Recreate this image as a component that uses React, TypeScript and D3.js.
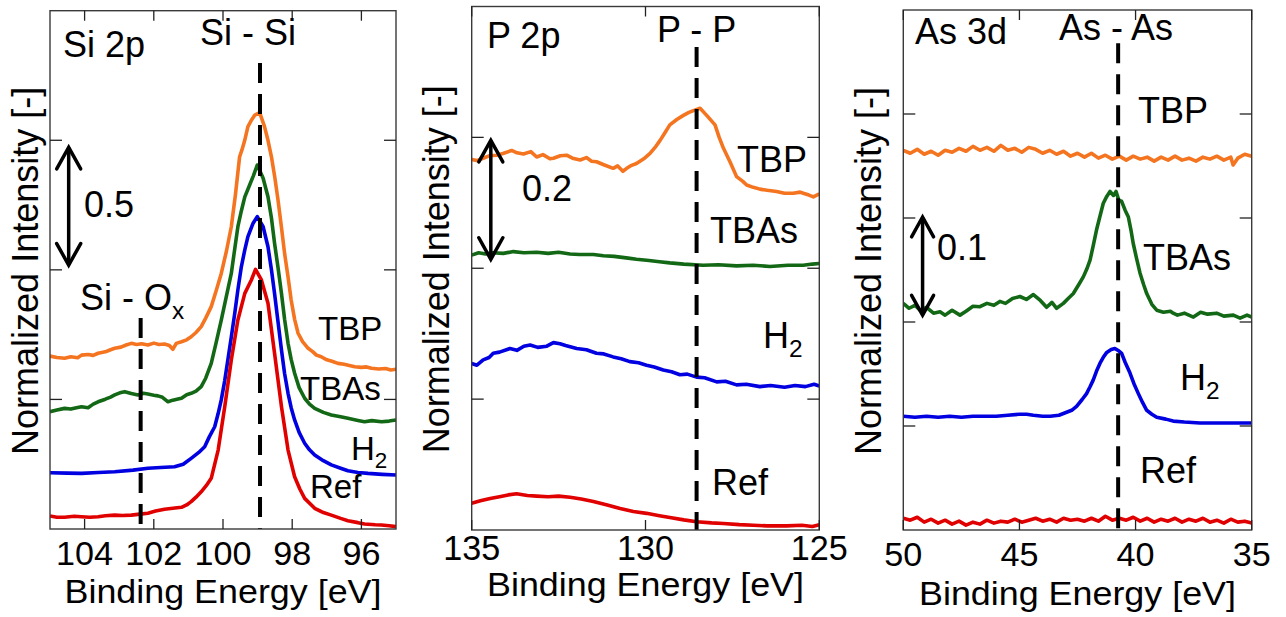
import React from "react";
import * as d3 from "d3";

type Pt = [number, number];

// ---- Si 2p spectra (binding energy eV, normalized intensity, offset) ----
const siTBP: Pt[] = [[105.0,0.734],[104.8,0.728],[104.58,0.725],[104.4,0.731],[104.2,0.727],[104.09,0.738],[103.9,0.741],[103.75,0.737],[103.61,0.746],[103.4,0.752],[103.25,0.761],[103.13,0.767],[102.95,0.772],[102.8,0.781],[102.65,0.788],[102.5,0.783],[102.35,0.786],[102.17,0.781],[102.0,0.789],[101.85,0.783],[101.69,0.785],[101.55,0.779],[101.45,0.763],[101.35,0.788],[101.2,0.795],[101.05,0.803],[100.92,0.816],[100.78,0.834],[100.63,0.859],[100.5,0.895],[100.34,0.944],[100.2,1.01],[100.05,1.085],[99.9,1.18],[99.76,1.283],[99.64,1.42],[99.52,1.58],[99.45,1.61],[99.37,1.651],[99.28,1.708],[99.18,1.735],[99.08,1.757],[98.94,1.767],[98.8,1.708],[98.7,1.65],[98.6,1.58],[98.5,1.49],[98.41,1.396],[98.31,1.28],[98.22,1.17],[98.12,1.07],[98.03,0.972],[97.93,0.89],[97.83,0.831],[97.7,0.795],[97.54,0.767],[97.4,0.752],[97.3,0.738],[97.16,0.731],[97.0,0.718],[96.85,0.712],[96.68,0.703],[96.5,0.699],[96.35,0.694],[96.19,0.689],[96.0,0.686],[95.85,0.688],[95.71,0.682],[95.5,0.679],[95.3,0.681],[95.15,0.675],[95.0,0.678]];
const siTBAs: Pt[] = [[105.0,0.498],[104.8,0.505],[104.58,0.512],[104.4,0.509],[104.2,0.516],[104.09,0.519],[103.9,0.515],[103.75,0.53],[103.61,0.54],[103.4,0.551],[103.25,0.56],[103.13,0.569],[102.98,0.578],[102.84,0.583],[102.65,0.575],[102.46,0.569],[102.3,0.576],[102.17,0.573],[102.0,0.568],[101.88,0.565],[101.75,0.559],[101.59,0.54],[101.45,0.547],[101.3,0.552],[101.2,0.555],[101.05,0.57],[100.92,0.576],[100.78,0.585],[100.63,0.604],[100.5,0.64],[100.34,0.703],[100.2,0.79],[100.05,0.887],[99.9,0.99],[99.76,1.085],[99.66,1.19],[99.57,1.283],[99.47,1.35],[99.37,1.41],[99.23,1.46],[99.12,1.5],[99.01,1.545],[98.84,1.489],[98.7,1.41],[98.6,1.32],[98.51,1.213],[98.41,1.11],[98.31,1.0],[98.22,0.89],[98.12,0.788],[98.03,0.72],[97.93,0.661],[97.8,0.6],[97.64,0.555],[97.5,0.53],[97.35,0.512],[97.1,0.495],[96.87,0.484],[96.6,0.476],[96.39,0.47],[96.1,0.461],[95.91,0.455],[95.7,0.46],[95.42,0.455],[95.2,0.458],[95.0,0.463]];
const siH2: Pt[] = [[105.0,0.239],[104.5,0.237],[104.09,0.236],[103.6,0.24],[103.13,0.243],[102.6,0.25],[102.17,0.258],[101.8,0.261],[101.4,0.264],[101.15,0.275],[100.92,0.3],[100.7,0.325],[100.53,0.349],[100.4,0.39],[100.24,0.434],[100.14,0.49],[100.05,0.548],[99.95,0.63],[99.86,0.717],[99.76,0.815],[99.66,0.916],[99.57,1.015],[99.47,1.113],[99.37,1.185],[99.28,1.241],[99.13,1.298],[99.01,1.326],[98.84,1.283],[98.7,1.198],[98.6,1.1],[98.51,1.0],[98.41,0.88],[98.31,0.76],[98.22,0.66],[98.12,0.576],[98.03,0.515],[97.93,0.463],[97.8,0.41],[97.64,0.364],[97.5,0.336],[97.35,0.314],[97.1,0.29],[96.87,0.272],[96.6,0.258],[96.39,0.247],[96.1,0.24],[95.81,0.236],[95.4,0.232],[95.0,0.229]];
const siRef: Pt[] = [[105.0,0.055],[104.8,0.05],[104.58,0.05],[104.3,0.054],[104.09,0.052],[103.85,0.05],[103.61,0.052],[103.4,0.056],[103.13,0.059],[102.9,0.057],[102.65,0.059],[102.4,0.063],[102.17,0.067],[101.95,0.076],[101.69,0.084],[101.45,0.088],[101.2,0.092],[101.05,0.102],[100.92,0.116],[100.78,0.135],[100.63,0.158],[100.48,0.185],[100.34,0.215],[100.14,0.335],[99.95,0.519],[99.76,0.717],[99.57,0.887],[99.37,1.0],[99.18,1.057],[99.06,1.102],[98.89,1.057],[98.7,0.958],[98.51,0.746],[98.31,0.519],[98.12,0.335],[97.93,0.222],[97.78,0.17],[97.64,0.13],[97.35,0.088],[97.1,0.07],[96.87,0.059],[96.6,0.045],[96.39,0.035],[96.1,0.027],[95.91,0.021],[95.6,0.018],[95.42,0.017],[95.2,0.014],[95.0,0.01]];

// ---- P 2p spectra ----
const pTBP: Pt[] = [[135.0,0.623],[134.85,0.621],[134.67,0.625],[134.5,0.629],[134.28,0.63],[134.1,0.633],[133.85,0.638],[133.7,0.634],[133.51,0.632],[133.3,0.636],[133.13,0.627],[132.95,0.631],[132.75,0.624],[132.65,0.625],[132.45,0.629],[132.27,0.63],[132.1,0.625],[131.88,0.622],[131.7,0.626],[131.55,0.62],[131.41,0.619],[131.2,0.614],[130.93,0.608],[130.8,0.612],[130.65,0.603],[130.54,0.608],[130.4,0.613],[130.26,0.616],[130.05,0.624],[129.87,0.633],[129.7,0.645],[129.58,0.655],[129.45,0.667],[129.3,0.681],[129.1,0.69],[128.91,0.697],[128.75,0.702],[128.62,0.705],[128.43,0.709],[128.24,0.697],[128.0,0.681],[127.88,0.66],[127.76,0.642],[127.57,0.619],[127.38,0.594],[127.2,0.586],[127.09,0.58],[126.9,0.576],[126.71,0.573],[126.5,0.571],[126.23,0.569],[126.0,0.566],[125.75,0.566],[125.55,0.568],[125.46,0.566],[125.3,0.563],[125.17,0.56],[125.0,0.565]];
const pTBAs: Pt[] = [[135.0,0.462],[134.8,0.466],[134.6,0.464],[134.4,0.466],[134.09,0.465],[133.8,0.468],[133.5,0.466],[133.13,0.467],[132.8,0.465],[132.5,0.467],[132.17,0.464],[131.9,0.463],[131.5,0.463],[131.21,0.461],[130.9,0.46],[130.5,0.457],[130.26,0.455],[129.9,0.453],[129.6,0.451],[129.3,0.449],[128.9,0.447],[128.34,0.445],[127.9,0.446],[127.38,0.444],[126.9,0.445],[126.42,0.443],[125.9,0.445],[125.46,0.445],[125.2,0.447],[125.0,0.448]];
const pH2: Pt[] = [[135.0,0.28],[134.85,0.277],[134.67,0.286],[134.5,0.29],[134.38,0.297],[134.2,0.299],[133.9,0.305],[133.7,0.302],[133.5,0.309],[133.32,0.311],[133.1,0.307],[132.84,0.309],[132.65,0.315],[132.46,0.313],[132.3,0.31],[131.98,0.305],[131.7,0.303],[131.41,0.297],[131.2,0.296],[130.93,0.291],[130.7,0.288],[130.45,0.283],[130.2,0.281],[129.97,0.277],[129.75,0.274],[129.49,0.269],[129.25,0.266],[129.01,0.261],[128.8,0.262],[128.53,0.257],[128.3,0.256],[127.95,0.249],[127.7,0.25],[127.38,0.244],[127.1,0.245],[126.71,0.241],[126.4,0.243],[126.0,0.24],[125.7,0.243],[125.4,0.241],[125.15,0.245],[125.0,0.242]];
const pRef: Pt[] = [[135.0,0.045],[134.75,0.049],[134.47,0.053],[134.2,0.056],[133.95,0.059],[133.71,0.061],[133.4,0.058],[133.13,0.057],[132.8,0.056],[132.5,0.057],[132.17,0.055],[131.85,0.052],[131.5,0.048],[131.1,0.042],[130.73,0.036],[130.35,0.031],[129.97,0.028],[129.6,0.024],[129.3,0.021],[128.9,0.017],[128.53,0.014],[128.1,0.012],[127.76,0.011],[127.3,0.009],[126.9,0.008],[126.5,0.007],[125.94,0.007],[125.5,0.008],[125.2,0.006],[125.0,0.009]];

// ---- As 3d spectra ----
const asTBP: Pt[] = [[50,0.387],[49.7,0.384],[49.4,0.388],[49.1,0.383],[48.8,0.386],[48.5,0.382],[48.2,0.387],[47.9,0.385],[47.6,0.389],[47.3,0.386],[47.0,0.391],[46.7,0.387],[46.4,0.39],[46.1,0.386],[45.8,0.392],[45.5,0.387],[45.2,0.389],[44.9,0.385],[44.6,0.39],[44.3,0.388],[44.0,0.384],[43.7,0.387],[43.4,0.383],[43.1,0.386],[42.8,0.381],[42.5,0.384],[42.2,0.38],[41.9,0.384],[41.6,0.379],[41.3,0.382],[41.0,0.378],[40.7,0.381],[40.4,0.377],[40.1,0.381],[39.8,0.378],[39.5,0.38],[39.2,0.376],[38.9,0.38],[38.6,0.377],[38.3,0.381],[38.0,0.377],[37.7,0.379],[37.4,0.376],[37.1,0.38],[36.8,0.378],[36.5,0.381],[36.2,0.377],[35.9,0.38],[35.8,0.372],[35.6,0.379],[35.3,0.383],[35.0,0.381]];
const asTBAs: Pt[] = [[50,0.231],[49.75,0.226],[49.5,0.229],[49.28,0.224],[49.0,0.227],[48.7,0.221],[48.42,0.2225],[48.2,0.219],[47.9,0.224],[47.56,0.219],[47.3,0.223],[47.0,0.228],[46.7,0.2276],[46.4,0.231],[46.1,0.229],[45.84,0.233],[45.6,0.231],[45.3,0.236],[44.98,0.238],[44.7,0.235],[44.4,0.24],[44.1,0.234],[43.83,0.227],[43.6,0.232],[43.4,0.226],[43.11,0.231],[42.9,0.236],[42.68,0.241],[42.45,0.25],[42.25,0.258],[42.1,0.266],[41.96,0.275],[41.82,0.29],[41.68,0.306],[41.53,0.32],[41.39,0.333],[41.24,0.34],[41.1,0.345],[40.95,0.341],[40.84,0.345],[40.72,0.336],[40.6,0.335],[40.45,0.326],[40.31,0.319],[40.2,0.306],[40.1,0.292],[39.95,0.276],[39.81,0.262],[39.65,0.25],[39.52,0.241],[39.3,0.23],[39.09,0.224],[38.8,0.222],[38.5,0.223],[38.38,0.221],[38.2,0.219],[37.9,0.221],[37.51,0.217],[37.2,0.222],[36.9,0.22],[36.51,0.221],[36.2,0.218],[35.79,0.219],[35.5,0.216],[35.2,0.219],[35.0,0.217]];
const asH2: Pt[] = [[50,0.116],[49.5,0.115],[49.0,0.116],[48.5,0.115],[48.0,0.116],[47.5,0.115],[47.0,0.116],[46.5,0.116],[46.0,0.116],[45.5,0.117],[45.0,0.118],[44.69,0.118],[44.4,0.117],[44.0,0.116],[43.68,0.116],[43.3,0.117],[42.97,0.12],[42.75,0.122],[42.54,0.126],[42.3,0.133],[42.11,0.139],[41.96,0.146],[41.82,0.153],[41.68,0.162],[41.53,0.17],[41.39,0.176],[41.24,0.181],[41.05,0.184],[40.89,0.185],[40.75,0.183],[40.6,0.18],[40.45,0.171],[40.24,0.16],[40.05,0.148],[39.88,0.139],[39.7,0.13],[39.52,0.122],[39.3,0.118],[39.09,0.115],[38.7,0.113],[38.38,0.111],[37.9,0.11],[37.23,0.109],[36.5,0.109],[35.79,0.109],[35.0,0.109]];
const asRef: Pt[] = [[50,0.012],[49.7,0.01],[49.4,0.013],[49.1,0.008],[48.8,0.011],[48.5,0.007],[48.2,0.01],[47.9,0.006],[47.6,0.009],[47.3,0.005],[47.0,0.008],[46.7,0.006],[46.4,0.01],[46.1,0.007],[45.8,0.009],[45.5,0.008],[45.2,0.011],[44.9,0.008],[44.6,0.01],[44.3,0.012],[44.0,0.009],[43.7,0.011],[43.4,0.008],[43.1,0.012],[42.8,0.01],[42.5,0.011],[42.2,0.009],[41.9,0.012],[41.6,0.009],[41.3,0.014],[41.0,0.01],[40.7,0.012],[40.4,0.01],[40.1,0.013],[39.8,0.009],[39.5,0.012],[39.2,0.008],[38.9,0.011],[38.6,0.009],[38.3,0.012],[38.0,0.008],[37.7,0.011],[37.4,0.009],[37.1,0.012],[36.8,0.008],[36.5,0.01],[36.2,0.007],[35.9,0.011],[35.6,0.008],[35.3,0.009],[35.0,0.007]];

// tick values
const siTicks = [104, 102, 100, 98, 96];
const pTicks = [135, 130, 125];
const asTicks = [50, 45, 40, 35];

// reference lines [energy, top value]
const siDashes: Pt[] = [[98.93, 1.978], [102.38, 0.896]];
const pDashes: Pt[] = [[128.53, 0.812]];
const asDashes: Pt[] = [[40.75, 0.496]];

// scale bars [energy, from, to]
const siArrow = [104.46, 1.12, 1.62];
const pArrow = [134.45, 0.455, 0.655];
const asArrow = [49.17, 0.219, 0.319];

const colors: Record<string, string> = {
  TBP: "#f47420",
  TBAs: "#136816",
  H2: "#0000e0",
  Ref: "#e00000",
};

const FONT = "'Liberation Sans', Arial, Helvetica, sans-serif";

type Label = { t: string; x: number; y: number; size: number; sub?: string };

const panels = [
  {
    left: 50, right: 396, top: 10.7, bottom: 529,
    xDomain: [105, 95], yMax: 2.2, yStep: 0.55,
    ticks: siTicks, tickBase: 565, tickSize: 33, tickLen: 19,
    labelBase: 603, yLabelX: 38,
    series: [["TBP", siTBP], ["TBAs", siTBAs], ["H2", siH2], ["Ref", siRef]] as [string, Pt[]][],
    dashes: siDashes, arrow: siArrow, head: 12,
    labels: [
      { t: "Si 2p", x: 63, y: 57, size: 36 },
      { t: "Si - Si", x: 200, y: 45, size: 36 },
      { t: "Si - O", x: 80, y: 310, size: 36, sub: "x" },
      { t: "0.5", x: 84, y: 217, size: 36 },
      { t: "TBP", x: 318, y: 340, size: 33 },
      { t: "TBAs", x: 300, y: 400, size: 33 },
      { t: "H", x: 351, y: 460, size: 33, sub: "2" },
      { t: "Ref", x: 310, y: 498, size: 33 },
    ] as Label[],
  },
  {
    left: 471.7, right: 819.3, top: 6.5, bottom: 530,
    xDomain: [135, 125], yMax: 0.88, yStep: 0.22,
    ticks: pTicks, tickBase: 560, tickSize: 35, tickLen: 19,
    labelBase: 596, yLabelX: 449,
    series: [["TBP", pTBP], ["TBAs", pTBAs], ["H2", pH2], ["Ref", pRef]] as [string, Pt[]][],
    dashes: pDashes, arrow: pArrow, head: 12,
    labels: [
      { t: "P 2p", x: 487, y: 48, size: 36 },
      { t: "P - P", x: 657, y: 42, size: 36 },
      { t: "0.2", x: 522, y: 201, size: 36 },
      { t: "TBP", x: 737, y: 172, size: 36 },
      { t: "TBAs", x: 710, y: 243, size: 36 },
      { t: "H", x: 763, y: 348, size: 36, sub: "2" },
      { t: "Ref", x: 712, y: 495, size: 36 },
    ] as Label[],
  },
  {
    left: 903.3, right: 1251.7, top: 10, bottom: 530,
    xDomain: [50, 35], yMax: 0.53, yStep: 0.106,
    ticks: asTicks, tickBase: 566, tickSize: 34, tickLen: 19,
    labelBase: 605, yLabelX: 881,
    series: [["TBP", asTBP], ["TBAs", asTBAs], ["H2", asH2], ["Ref", asRef]] as [string, Pt[]][],
    dashes: asDashes, arrow: asArrow, head: 11,
    labels: [
      { t: "As 3d", x: 915, y: 44, size: 36 },
      { t: "As - As", x: 1059, y: 40, size: 36 },
      { t: "0.1", x: 937, y: 260, size: 36 },
      { t: "TBP", x: 1138, y: 123, size: 36 },
      { t: "TBAs", x: 1143, y: 270, size: 36 },
      { t: "H", x: 1180, y: 390, size: 36, sub: "2" },
      { t: "Ref", x: 1140, y: 483, size: 36 },
    ] as Label[],
  },
];

function Panel({ p, idx }: { p: (typeof panels)[number]; idx: number }) {
  const x = d3.scaleLinear().domain(p.xDomain).range([p.left, p.right]);
  const y = d3.scaleLinear().domain([0, p.yMax]).range([p.bottom, p.top]);
  const line = d3.line<Pt>().x(d => x(d[0])).y(d => y(d[1])).curve(d3.curveLinear);
  const yTicks = d3.range(1, Math.round(p.yMax / p.yStep)).map(i => i * p.yStep);
  const tl = 10;
  const [ae, a0, a1] = p.arrow;
  const ax = x(ae);
  const h = p.head;
  const clipId = `clip${idx}`;
  return (
    <g>
      <defs>
        <clipPath id={clipId}>
          <rect x={p.left} y={p.top} width={p.right - p.left} height={p.bottom - p.top} />
        </clipPath>
      </defs>
      <g clipPath={`url(#${clipId})`}>
        {p.series.map(([k, data]) => (
          <path key={k} d={line(data) || ""} fill="none" stroke={colors[k]} strokeWidth={3.6} strokeLinejoin="round" />
        ))}
        {p.dashes.map((d, i) => (
          <line key={i} x1={x(d[0])} x2={x(d[0])} y1={y(d[1])} y2={p.bottom} stroke="#000" strokeWidth={4} strokeDasharray="20,11" />
        ))}
      </g>
      {/* frame */}
      <rect x={p.left} y={p.top} width={p.right - p.left} height={p.bottom - p.top} fill="none" stroke="#3a3a3a" strokeWidth={1.4} />
      {p.ticks.map(t => (
        <g key={t} stroke="#222" strokeWidth={1.3}>
          <line x1={x(t)} x2={x(t)} y1={p.bottom} y2={p.bottom - tl} />
          <line x1={x(t)} x2={x(t)} y1={p.top} y2={p.top + tl} />
        </g>
      ))}
      {yTicks.map(t => (
        <g key={t} stroke="#222" strokeWidth={1.3}>
          <line x1={p.left} x2={p.left + tl + 2} y1={y(t)} y2={y(t)} />
          <line x1={p.right} x2={p.right - tl - 2} y1={y(t)} y2={y(t)} />
        </g>
      ))}
      {/* scale bar */}
      <g stroke="#000" strokeWidth={3.5} fill="none" strokeLinecap="round">
        <line x1={ax} x2={ax} y1={y(a1) + 1} y2={y(a0) - 1} />
        <polyline points={`${ax - h},${y(a1) + h * 1.8} ${ax},${y(a1)} ${ax + h},${y(a1) + h * 1.8}`} />
        <polyline points={`${ax - h},${y(a0) - h * 1.8} ${ax},${y(a0)} ${ax + h},${y(a0) - h * 1.8}`} />
      </g>
      {/* x tick labels */}
      {p.ticks.map(t => (
        <text key={t} x={x(t)} y={p.tickBase} fontSize={p.tickSize} textAnchor="middle"
          textLength={String(t).length * p.tickLen} lengthAdjust="spacingAndGlyphs">{t}</text>
      ))}
      <text x={(p.left + p.right) / 2} y={p.labelBase} fontSize={33} textAnchor="middle"
        textLength={317} lengthAdjust="spacingAndGlyphs">Binding Energy [eV]</text>
      <text transform={`translate(${p.yLabelX},${(p.top + p.bottom) / 2 + 1}) rotate(-90)`} fontSize={36} textAnchor="middle">
        Normalized Intensity [-]
      </text>
      {p.labels.map((l, i) => (
        <text key={i} x={l.x} y={l.y} fontSize={l.size}>
          {l.t}
          {l.sub && <tspan fontSize={l.size * 0.68} dy={l.size * 0.25}>{l.sub}</tspan>}
        </text>
      ))}
    </g>
  );
}

export default function App() {
  return (
    <svg width={1286} height={617} style={{ position: "absolute", left: 0, top: 0, background: "#fff" }}
      fontFamily={FONT} fill="#000">
      {panels.map((p, i) => (
        <Panel key={i} p={p} idx={i} />
      ))}
    </svg>
  );
}
